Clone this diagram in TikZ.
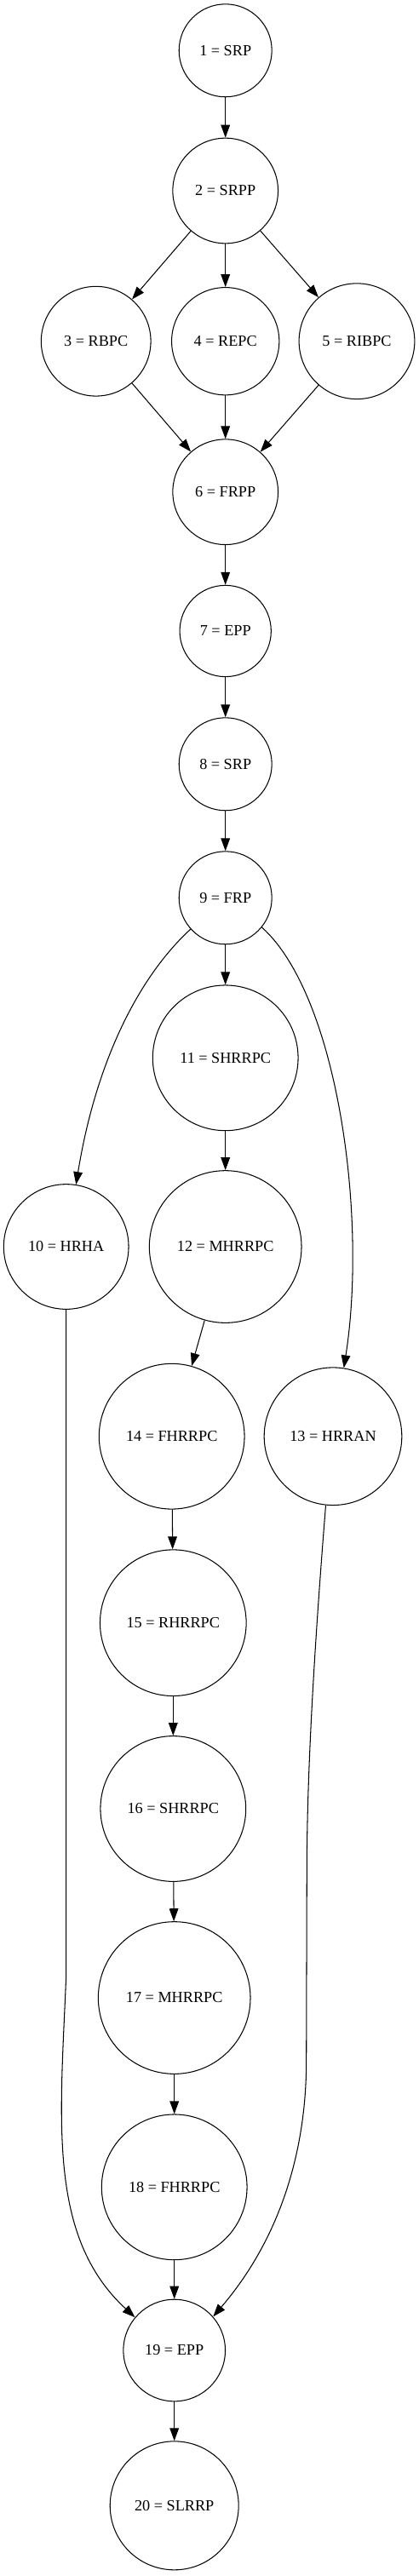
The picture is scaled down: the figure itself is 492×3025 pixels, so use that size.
\documentclass[tikz,border=0pt]{standalone}
\usepackage{fontspec}
\setmainfont{Liberation Serif}
\usetikzlibrary{arrows.meta}

\begin{document}
\begin{tikzpicture}[x=0.769pt,y=0.769pt,line width=0.8pt,
		phase/.style={circle,draw,inner sep=0pt,font=\fontsize{14pt}{16pt}\selectfont},
		>={Triangle[length=11.5pt,width=8.2pt]}]
			\useasboundingbox (0,0) rectangle (492,-3025);

			\node[phase,minimum size=83.8pt] (n1) at (264.7,-59.3) {1 = SRP};
			\node[phase,minimum size=95.1pt] (n2) at (264.7,-224) {2 = SRPP};
			\node[phase,minimum size=99.0pt] (n3) at (112.7,-400.7) {3 = RBPC};
			\node[phase,minimum size=97.1pt] (n4) at (264.7,-400.7) {4 = REPC};
			\node[phase,minimum size=104.4pt] (n5) at (419,-400.7) {5 = RIBPC};
			\node[phase,minimum size=95.1pt] (n6) at (264.7,-577.7) {6 = FRPP};
			\node[phase,minimum size=82.5pt] (n7) at (264.7,-741) {7 = EPP};
			\node[phase,minimum size=83.8pt] (n8) at (264.7,-897.3) {8 = SRP};
			\node[phase,minimum size=83.8pt] (n9) at (264.7,-1054.3) {9 = FRP};
			\node[phase,minimum size=112.8pt] (n10) at (77.7,-1464) {10 = HRHA};
			\node[phase,minimum size=131.3pt] (n11) at (264.7,-1242.3) {11 = SHRRPC};
			\node[phase,minimum size=137.4pt] (n12) at (264.7,-1464) {12 = MHRRPC};
			\node[phase,minimum size=124.3pt] (n13) at (391,-1686.7) {13 = HRRAN};
			\node[phase,minimum size=131.3pt] (n14) at (201.7,-1686.7) {14 = FHRRPC};
			\node[phase,minimum size=132.0pt] (n15) at (203.3,-1905.7) {15 = RHRRPC};
			\node[phase,minimum size=131.3pt] (n16) at (203.3,-2124) {16 = SHRRPC};
			\node[phase,minimum size=137.4pt] (n17) at (204.7,-2346) {17 = MHRRPC};
			\node[phase,minimum size=131.3pt] (n18) at (204.7,-2568.3) {18 = FHRRPC};
			\node[phase,minimum size=92.0pt] (n19) at (204.7,-2760) {19 = EPP};
			\node[phase,minimum size=116.1pt] (n20) at (204.7,-2942.3) {20 = SLRRP};

			\coordinate (p10) at (77.7,-2320);
			\coordinate (p13a) at (360.3,-2200);
			\coordinate (p13b) at (359.7,-2420);

			\path[->,draw] (n1) -- (n2);
			\path[->,draw] (n2) -- (n3);
			\path[->,draw] (n2) -- (n4);
			\path[->,draw] (n2) -- (n5);
			\path[->,draw] (n3) -- (n6);
			\path[->,draw] (n4) -- (n6);
			\path[->,draw] (n5) -- (n6);
			\path[->,draw] (n6) -- (n7);
			\path[->,draw] (n7) -- (n8);
			\path[->,draw] (n8) -- (n9);
			\path[->,draw] (n9) -- (n11);
			\path[->,draw] (n9.222) .. controls +(-59,-54) and +(24,148) .. (n10.81);
			\path[->,draw] (n9.321) .. controls +(89,-80) and +(28,178) .. (n13.81);
			\path[->,draw] (n11) -- (n12);
			\path[->,draw] (n12) -- (n14);
			\path[->,draw] (n14) -- (n15);
			\path[->,draw] (n15) -- (n16);
			\path[->,draw] (n16) -- (n17);
			\path[->,draw] (n17) -- (n18);
			\path[->,draw] (n18) -- (n19);
			\path[->,draw] (n10.south) -- (p10) .. controls +(-7,-170) and +(-103,95) .. (n19.140);
			\path[->,draw] (n13.264) .. controls +(-16,-199) and +(0,100) .. (p13a) -- (p13b) .. controls +(0,-60) and +(100,117) .. (n19.41);
			\path[->,draw] (n19) -- (n20);
		\end{tikzpicture}
\end{document}
